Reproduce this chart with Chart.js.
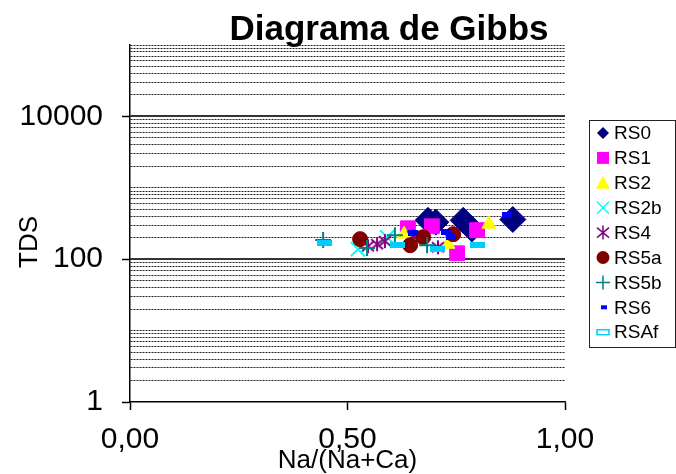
<!DOCTYPE html>
<html><head><meta charset="utf-8">
<script src="https://cdn.jsdelivr.net/npm/chart.js@4.4.1/dist/chart.umd.min.js"></script>
<style>html,body{margin:0;padding:0;background:#fff;overflow:hidden}canvas{display:block}</style>
</head><body>
<canvas id="c" width="676" height="474"></canvas>
<script>
// ---- data ----
const seriesNames = ['RS0','RS1','RS2','RS2b','RS4','RS5a','RS5b','RS6','RSAf'];
const rs0X = [0.685, 0.703, 0.766, 0.786, 0.880];
const rs0Y = [350, 330, 350, 265, 360];
const rs1X = [0.639, 0.694, 0.798, 0.752];
const rs1Y = [271, 289, 255, 121];
const rs2X = [0.630, 0.731, 0.825];
const rs2Y = [224, 162, 309];
const rs2bX = [0.524, 0.591];
const rs2bY = [138, 203];
const rs4X = [0.547, 0.568, 0.586, 0.651, 0.708];
const rs4Y = [152, 162, 179, 210, 147];
const rs5aX = [0.529, 0.644, 0.674, 0.743];
const rs5aY = [191, 157, 203, 224];
const rs5bX = [0.444, 0.545, 0.609, 0.683];
const rs5bY = [185, 143, 217, 157];
const rs6X = [0.651, 0.726, 0.737, 0.867];
const rs6Y = [231, 239, 203, 412];
const rsAfX = [0.448, 0.616, 0.706, 0.798];
const rsAfY = [167, 157, 138, 157];
const yTickLabels = [1, 100, 10000];
const xTickValues = [0, 0.5, 1];
const chartTitle = 'Diagrama de Gibbs';
const xTitle = 'Na/(Na+Ca)';
const yTitle = 'TDS';

const FONT = "'Liberation Sans', Arial, sans-serif";
const colors = ['#000080','#FF00FF','#FFFF00','#00FFFF','#800080','#800000','#008080','#0000FF','#00CCFF'];

function pts(xs, ys){ return xs.map((x,i)=>({x:x, y:ys[i]})); }

function makeCanvas(w,h,draw){ const c=document.createElement('canvas'); c.width=w; c.height=h; draw(c.getContext('2d'),w,h); return c; }
const starMarker = makeCanvas(16,16,(g)=>{ g.strokeStyle=colors[4]; g.lineWidth=2; g.beginPath();
  g.moveTo(2,3); g.lineTo(14,13); g.moveTo(14,3); g.lineTo(2,13); g.moveTo(8,1); g.lineTo(8,15); g.stroke(); });
const shortDash = makeCanvas(10,6,(g)=>{ g.fillStyle=colors[7]; g.fillRect(0,0,10,6); });
const longDash = makeCanvas(15,6,(g)=>{ g.fillStyle=colors[8]; g.fillRect(0,0,15,6); });

// grid values on the log axis (1..9 x 10^k)
const yGridValues = [];
for (let p = 1; p <= 10000; p *= 10) for (let m = 1; m <= 9; m++) yGridValues.push(m*p);
yGridValues.push(100000);
const isMajor = v => yTickLabels.includes(v);

const seriesData = [
  pts(rs0X, rs0Y), pts(rs1X, rs1Y), pts(rs2X, rs2Y), pts(rs2bX, rs2bY), pts(rs4X, rs4Y),
  pts(rs5aX, rs5aY), pts(rs5bX, rs5bY), pts(rs6X, rs6Y), pts(rsAfX, rsAfY)
];
const styles = [
  {pointStyle:'rectRot', pointRadius:13, borderWidth:1},
  {pointStyle:'rect', pointRadius:10.5, borderWidth:1},
  {pointStyle:'triangle', pointRadius:8, borderWidth:1},
  {pointStyle:'crossRot', pointRadius:10, borderWidth:2},
  {pointStyle:starMarker, pointRadius:8, borderWidth:0},
  {pointStyle:'circle', pointRadius:7.5, borderWidth:1},
  {pointStyle:'cross', pointRadius:8, borderWidth:2},
  {pointStyle:shortDash, pointRadius:5, borderWidth:0},
  {pointStyle:longDash, pointRadius:7, borderWidth:0}
];

const datasets = seriesNames.map((n,i)=>Object.assign({
  label: n, data: seriesData[i], backgroundColor: colors[i], borderColor: colors[i],
  showLine: false, order: seriesNames.length - i, pointHoverRadius: styles[i].pointRadius
}, styles[i]));

function legendMarker(ctx, i, x, y){
  const c = colors[i];
  ctx.save(); ctx.fillStyle = c; ctx.strokeStyle = c; ctx.lineWidth = 1.5;
  ctx.beginPath();
  switch(i){
    case 0: ctx.moveTo(x-6,y); ctx.lineTo(x,y-6); ctx.lineTo(x+6,y); ctx.lineTo(x,y+6); ctx.closePath(); ctx.fill(); break;
    case 1: ctx.fillRect(x-6,y-6,12,12); break;
    case 2: ctx.moveTo(x-7,y+6); ctx.lineTo(x,y-7); ctx.lineTo(x+7,y+6); ctx.closePath(); ctx.fill(); break;
    case 3: ctx.moveTo(x-6,y-6); ctx.lineTo(x+6,y+6); ctx.moveTo(x+6,y-6); ctx.lineTo(x-6,y+6); ctx.stroke(); break;
    case 4: ctx.moveTo(x-6,y-5); ctx.lineTo(x+6,y+5); ctx.moveTo(x+6,y-5); ctx.lineTo(x-6,y+5); ctx.moveTo(x,y-7); ctx.lineTo(x,y+7); ctx.stroke(); break;
    case 5: ctx.arc(x,y,6.5,0,Math.PI*2); ctx.fill(); break;
    case 6: ctx.moveTo(x-7,y); ctx.lineTo(x+7,y); ctx.moveTo(x,y-7); ctx.lineTo(x,y+7); ctx.stroke(); break;
    case 7: ctx.fillRect(x-2,y-2,6,4); break;
    case 8: ctx.fillStyle='#fff'; ctx.fillRect(x-6,y-2.5,12,5); ctx.strokeRect(x-6,y-2.5,12,5); break;
  }
  ctx.restore();
}

const decor = {
  id: 'decor',
  beforeDatasetsDraw(chart){
    const ctx = chart.ctx, a = chart.chartArea, ys = chart.scales.y;
    ctx.save(); ctx.strokeStyle = '#333'; ctx.lineWidth = 2;
    yTickLabels.forEach(v => { if (v === 1) return; const py = Math.round(ys.getPixelForValue(v));
      ctx.beginPath(); ctx.moveTo(a.left, py); ctx.lineTo(a.right, py); ctx.stroke(); });
    ctx.restore();
  },
  afterDraw(chart){
    const ctx = chart.ctx;
    ctx.save();
    ctx.fillStyle = '#000';
    ctx.font = 'bold 35px ' + FONT; ctx.textAlign = 'center'; ctx.textBaseline = 'alphabetic';
    ctx.fillText(chartTitle, 389, 40);
    ctx.font = '26px ' + FONT; ctx.textBaseline = 'middle';
    ctx.translate(30, 242); ctx.rotate(-Math.PI/2); ctx.fillText(yTitle, 0, 0);
    ctx.restore();
    // legend
    ctx.save();
    ctx.strokeStyle = '#222'; ctx.lineWidth = 1;
    ctx.strokeRect(589.5, 120.5, 86, 227);
    ctx.font = '19px ' + FONT; ctx.fillStyle = '#000'; ctx.textAlign = 'left'; ctx.textBaseline = 'middle';
    seriesNames.forEach((n,i) => {
      const y = 133 + i*24.9;
      legendMarker(ctx, i, 603, y);
      ctx.fillText(n, 614, y + 1);
    });
    ctx.restore();
  }
};

new Chart(document.getElementById('c'), {
  type: 'scatter',
  data: { datasets },
  options: {
    responsive: false, animation: false, devicePixelRatio: 1,
    layout: { padding: { top: 45, right: 111, bottom: 0, left: 0 } },
    plugins: { legend: { display: false }, title: { display: false }, tooltip: { enabled: false } },
    scales: {
      x: {
        type: 'linear', min: 0, max: 1,
        afterBuildTicks: s => { s.ticks = xTickValues.map(v => ({value: v})); },
        afterFit: s => { s.height = 72; },
        ticks: { autoSkip: false, maxRotation: 0, padding: 12, color: '#000', font: { family: FONT, size: 30 },
          callback: v => Number(v).toFixed(2).replace('.', ',') },
        grid: { drawOnChartArea: false, tickLength: 8, tickColor: '#000', tickWidth: 1.5 },
        border: { color: '#000', width: 1.5 },
        title: { display: true, text: xTitle, color: '#000', font: { family: FONT, size: 26, lineHeight: 1 }, padding: 0 }
      },
      y: {
        type: 'logarithmic', min: 1, max: 100000,
        afterBuildTicks: s => { s.ticks = yGridValues.map(v => ({value: v})); },
        afterFit: s => { s.width = 130; },
        ticks: { autoSkip: false, padding: 19, color: '#000', font: { family: FONT, size: 30 },
          callback: v => isMajor(v) ? String(v) : '' },
        grid: { color: c => (c.tick && isMajor(c.tick.value)) ? 'rgba(0,0,0,0)' : '#222', lineWidth: 1,
          tickLength: 8, tickWidth: 1.5, tickColor: c => (c.tick && isMajor(c.tick.value)) ? '#000' : 'rgba(0,0,0,0)' },
        border: { color: '#000', width: 1.5, dash: [2, 1] },
        title: { display: false }
      }
    }
  },
  plugins: [decor]
});
</script>
</body></html>
